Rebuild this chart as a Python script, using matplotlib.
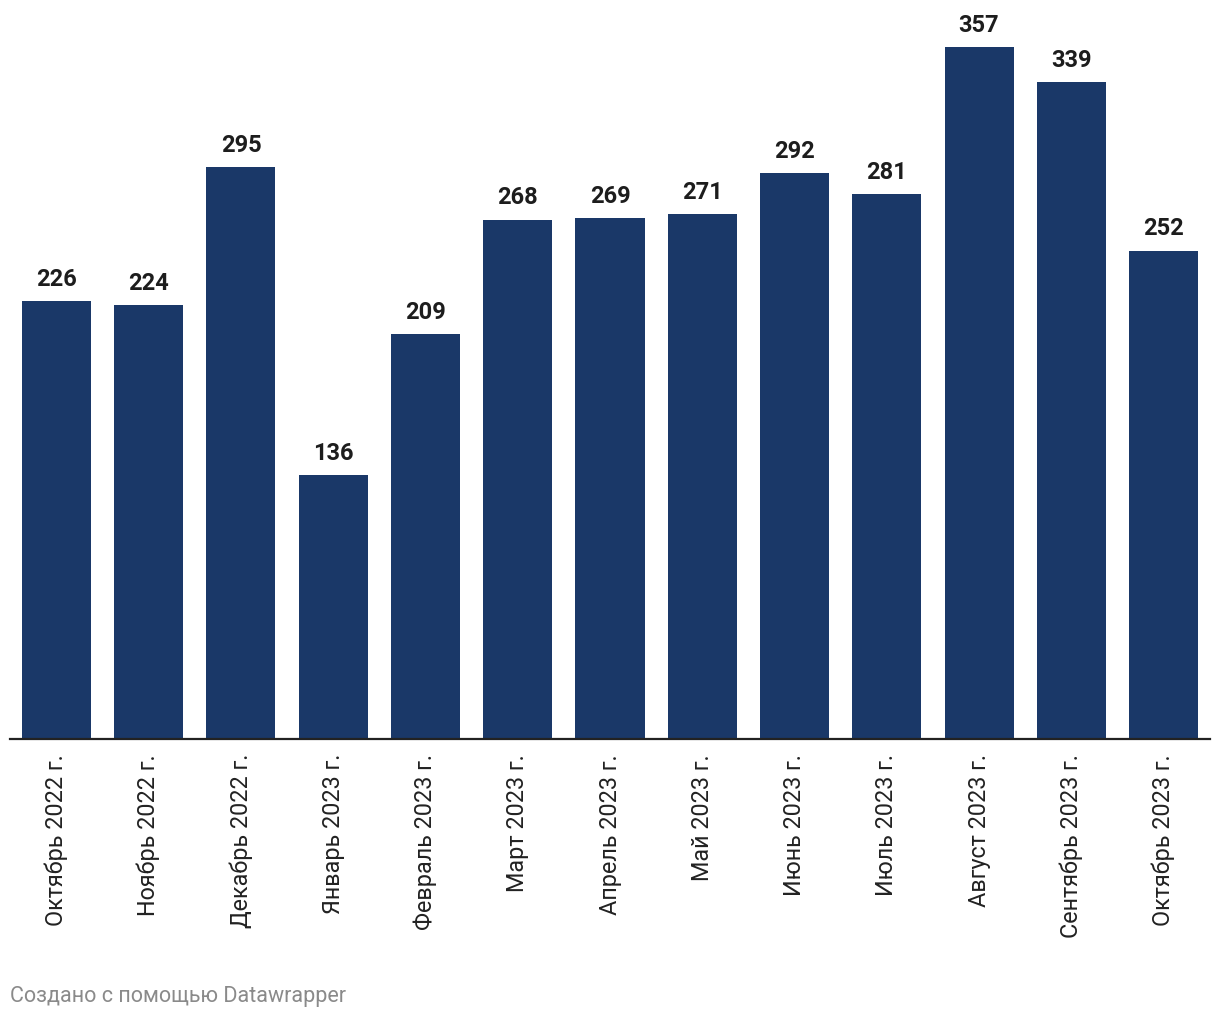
import numpy as np
import matplotlib.pyplot as plt

plt.rcParams['font.family'] = ['Roboto', 'DejaVu Sans']

# monthly values
months = ["Октябрь 2022 г.", "Ноябрь 2022 г.", "Декабрь 2022 г.", "Январь 2023 г.",
          "Февраль 2023 г.", "Март 2023 г.", "Апрель 2023 г.", "Май 2023 г.",
          "Июнь 2023 г.", "Июль 2023 г.", "Август 2023 г.", "Сентябрь 2023 г.",
          "Октябрь 2023 г."]
values = [226, 224, 295, 136, 209, 268, 269, 271, 292, 281, 357, 339, 252]

bar_color = '#1a3868'

fig = plt.figure(figsize=(12.2, 10.2), dpi=100)
ax = fig.add_axes([10 / 1220, 280 / 1020, 1200 / 1220, 740 / 1020])

x = np.arange(len(values))
bars = ax.bar(x, values, width=0.748, color=bar_color)

for xi, v in zip(x, values):
    ax.annotate(str(v), (xi, v), xytext=(0, 8), textcoords='offset points',
                ha='center', va='bottom', fontsize=17, fontweight='bold',
                color='#1d1d1d')

ax.set_xlim(-0.504, 12.504)
ax.set_ylim(0, 381.8)
ax.set_xticks(x)
ax.set_xticklabels(months, rotation=90, fontsize=16.8, color='#222222')
ax.tick_params(axis='x', length=0, pad=10)
ax.set_yticks([])
for s in ['top', 'right', 'left']:
    ax.spines[s].set_visible(False)
ax.spines['bottom'].set_color('#222222')
ax.spines['bottom'].set_linewidth(1.6)

fig.text(10 / 1220, 1 - 997 / 1020, "Создано с помощью Datawrapper",
         ha='left', va='center', fontsize=15.5, color='#8a8a8a')

fig.savefig('out.png', dpi=100)
